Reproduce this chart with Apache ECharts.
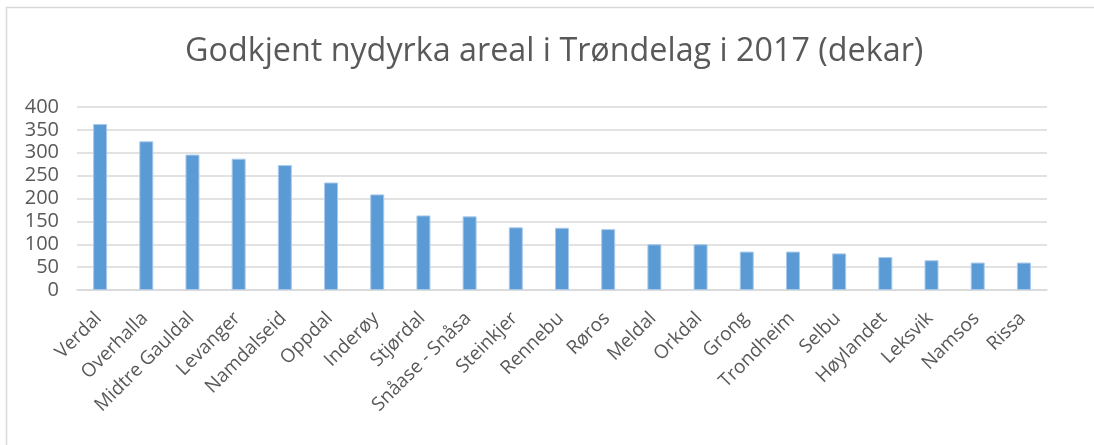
<!DOCTYPE html>
<html>
<head>
<meta charset="utf-8">
<script src="https://cdn.jsdelivr.net/npm/echarts@6/dist/echarts.min.js"></script>
<style>
html,body{margin:0;padding:0;background:#fff;}
#c{width:1094px;height:445px;}
</style>
</head>
<body>
<div id="c"></div>
<script>
const titleText = 'Godkjent nydyrka areal i Trøndelag i 2017 (dekar)';
const categories = ['Verdal','Overhalla','Midtre Gauldal','Levanger','Namdalseid','Oppdal','Inderøy','Stjørdal','Snåase - Snåsa','Steinkjer','Rennebu','Røros','Meldal','Orkdal','Grong','Trondheim','Selbu','Høylandet','Leksvik','Namsos','Rissa'];
const values = [363,325,296,287,273,235,209,163,161,137,136,133,100,100,84,84,80,72,65,60,60];
const yTicks = {min:0, max:400, interval:50};

const chart = echarts.init(document.getElementById('c'), null, {renderer:'canvas'});
const font = '"Open Sans", "DejaVu Sans", sans-serif';
chart.setOption({
  animation:false,
  backgroundColor:'#fff',
  title:{
    text:titleText, left:180, top:31,
    textStyle:{fontFamily:font, fontSize:32.3, fontWeight:'normal', color:'#595959'}
  },
  graphic:[{
    type:'rect', shape:{x:6.5,y:7.5,width:1100,height:460},
    style:{fill:'none', stroke:'#d9d9d9', lineWidth:1.5}, silent:true, z:-1
  }],
  grid:{left:77, right:47, top:107, bottom:155, containLabel:false},
  xAxis:{
    type:'category', data:categories,
    axisLine:{lineStyle:{color:'#d9d9d9', width:1.5}},
    axisTick:{show:false},
    axisLabel:{rotate:45, fontFamily:font, fontSize:19, color:'#595959', margin:24, padding:[0,2,0,0], interval:0}
  },
  yAxis:{
    type:'value', min:yTicks.min, max:yTicks.max, interval:yTicks.interval,
    axisLine:{show:false}, axisTick:{show:false},
    splitLine:{lineStyle:{color:'#d9d9d9', width:1.5}},
    axisLabel:{fontFamily:font, fontSize:20, color:'#595959', margin:18}
  },
  series:[{
    type:'bar', data:values, barWidth:14,
    itemStyle:{color:'#5b9bd5', borderColor:'#a9c9ea', borderWidth:1}
  }]
});
</script>
</body>
</html>
